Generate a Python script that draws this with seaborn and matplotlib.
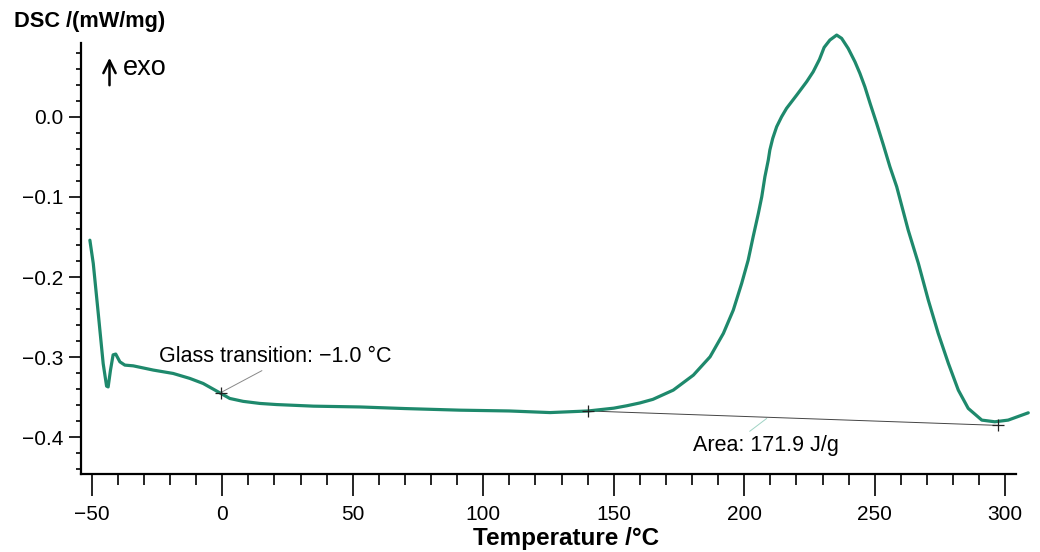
import numpy as np
import pandas as pd
import matplotlib
matplotlib.use("Agg")
import matplotlib.pyplot as plt
from matplotlib.patches import FancyArrowPatch
import seaborn as sns

# ---- data ----
temperature = [-50.7, -49.4, -47.5, -45.6, -44.3, -43.7, -42.8, -41.8, -40.8, -39.2,
               -37.3, -34.1, -26.4, -18.8, -12.4, -7.3, -2.1, 2.9, 8.0, 14.4,
               20.8, 35.0, 52.8, 70.0, 91.0, 110.0, 125.6, 140.2, 150.0, 155.0,
               160.0, 165.0, 172.8, 180.5, 186.9, 192.0, 195.8, 199.0, 201.5, 203.4,
               205.4, 206.7, 207.9, 209.2, 209.8, 210.9, 212.4, 214.3, 216.2, 220.1,
               223.9, 226.4, 228.8, 230.6, 232.8, 235.4, 237.3, 239.8, 242.4, 244.3,
               246.2, 248.2, 250.7, 253.3, 255.8, 258.4, 262.8, 266.7, 270.5, 274.3,
               278.2, 282.0, 285.8, 291.0, 296.0, 301.1, 308.8]
dsc = [-0.154, -0.183, -0.245, -0.308, -0.336, -0.337, -0.316, -0.297, -0.296, -0.3057,
       -0.3098, -0.3107, -0.316, -0.3202, -0.3264, -0.3327, -0.3422, -0.3514, -0.355, -0.3576,
       -0.359, -0.361, -0.362, -0.364, -0.366, -0.367, -0.369, -0.367, -0.3635, -0.3605,
       -0.357, -0.3525, -0.341, -0.3223, -0.2994, -0.2702, -0.2411, -0.2079, -0.1788, -0.1497,
       -0.1205, -0.0998, -0.0749, -0.054, -0.0415, -0.027, -0.0125, 0.0, 0.0105, 0.0271,
       0.0437, 0.0561, 0.0715, 0.0865, 0.0957, 0.1019, 0.0978, 0.0853, 0.0686, 0.0541,
       0.0374, 0.0167, -0.0082, -0.0353, -0.0624, -0.0873, -0.1414, -0.1829, -0.2287, -0.2702,
       -0.3077, -0.341, -0.3638, -0.3784, -0.3805, -0.3784, -0.3693]

y_major = [-0.4, -0.3, -0.2, -0.1, 0.0]
x_major = [-50, 0, 50, 100, 150, 200, 250, 300]

glass_point = (-0.5, -0.344)
glass_label = "Glass transition: \u22121.0 \u00b0C"
area_start = (140.2, -0.367)
area_end = (297.3, -0.385)
area_label = "Area: 171.9 J/g"

LINE_COLOR = "#1e896c"

df = pd.DataFrame({"Temperature": temperature, "DSC": dsc})

sns.set_style("ticks")
plt.rcParams["font.family"] = ["Liberation Sans", "DejaVu Sans"]
plt.rcParams["text.color"] = "black"
plt.rcParams["xtick.color"] = "black"
plt.rcParams["ytick.color"] = "black"

fig = plt.figure(figsize=(10.4, 5.52), dpi=100)
ax = fig.add_axes([81 / 1040, 77.7 / 552, (1016 - 81) / 1040, (474.3 - 43) / 552])

sns.lineplot(data=df, x="Temperature", y="DSC", ax=ax, color=LINE_COLOR,
             linewidth=2.3, clip_on=False, zorder=3)

# baseline for the peak integration
ax.plot([area_start[0], area_end[0]], [area_start[1], area_end[1]],
        color="#444444", linewidth=0.7, zorder=2)
for px, py in [area_start, area_end, glass_point]:
    ax.plot(px, py, marker="+", color="#222222", markersize=9, markeredgewidth=0.9,
            zorder=4)

ax.annotate(glass_label, xy=glass_point, xytext=(-24.3, -0.2995),
            fontsize=15.5, ha="left", va="center",
            arrowprops=dict(arrowstyle="-", color="#888888", lw=0.7,
                            shrinkA=0, shrinkB=0, relpos=(0.47, 0.0)))
ax.annotate(area_label, xy=(208.6, -0.3763), xytext=(180.3, -0.4096),
            fontsize=15.5, ha="left", va="center",
            arrowprops=dict(arrowstyle="-", color="#9fd3c4", lw=0.7,
                            shrinkA=0, shrinkB=0, relpos=(0.36, 1.0)))

ax.set_xlim(-54.1, 304.1)
ax.set_ylim(-0.446, 0.092)
ax.set_xticks(x_major)
ax.set_xticks(np.arange(-50, 301, 10), minor=True)
ax.set_yticks(y_major)
ax.set_yticks(np.arange(-0.44, 0.09, 0.02), minor=True)
ax.set_xticklabels([str(v).replace("-", "\u2212") for v in x_major])
ax.set_yticklabels([f"{v:.1f}".replace("-", "\u2212") for v in y_major])

ax.tick_params(axis="x", which="major", length=16, width=1.2, labelsize=15, pad=6)
ax.tick_params(axis="x", which="minor", length=8, width=1.2)
ax.tick_params(axis="y", which="major", length=9, width=1.2, labelsize=15, pad=4)
ax.tick_params(axis="y", which="minor", length=3.6, width=1.2)

sns.despine(ax=ax)
for side in ["left", "bottom"]:
    ax.spines[side].set_linewidth(1.6)
    ax.spines[side].set_color("black")

ax.set_xlabel("")
ax.set_ylabel("")
fig.text(566 / 1040, 1 - 539 / 552, "Temperature /\u00b0C", fontsize=17.5,
         fontweight="bold", ha="center", va="center")
fig.text(14 / 1040, 1 - 21 / 552, "DSC /(mW/mg)", fontsize=15.7,
         fontweight="bold", ha="left", va="center")
fig.text(123 / 1040, 1 - 68 / 552, "exo", fontsize=19.5, ha="left", va="center")
fig.patches.append(FancyArrowPatch((109.5 / 1040, 1 - 88 / 552), (109.5 / 1040, 1 - 55 / 552),
                                   transform=fig.transFigure, arrowstyle="->,head_length=0.45,head_width=0.22",
                                   mutation_scale=20, lw=1.8, color="black"))

fig.savefig("out.png", dpi=100)
